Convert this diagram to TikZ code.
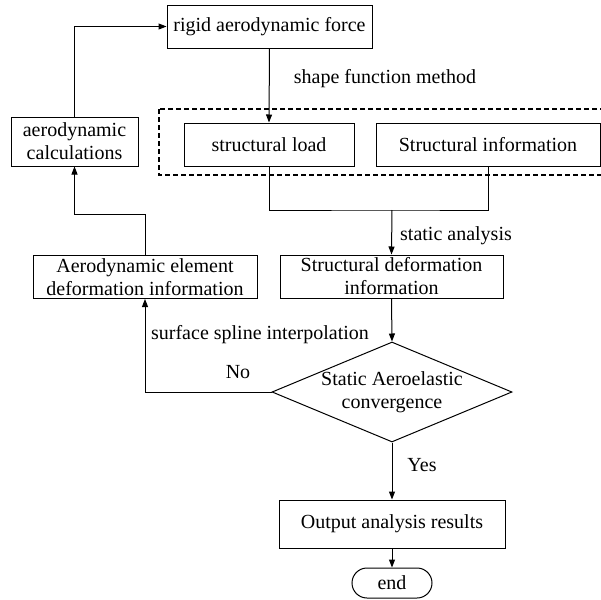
\documentclass[tikz,border=0pt]{standalone}
\usepackage{fontspec}
\setmainfont{Liberation Serif}
\usetikzlibrary{arrows.meta,positioning,shapes.geometric}

\begin{document}
\begin{tikzpicture}[
  x=0.5pt, y=-0.5pt,
  font=\fontsize{10}{11.5}\selectfont,
  box/.style={draw, line width=0.5pt, align=center, inner sep=0pt, minimum height=21.5pt},
  decision/.style={draw, line width=0.5pt, diamond, aspect=2.4, align=center, inner xsep=-6pt, inner ysep=0pt, minimum width=120pt, minimum height=50pt},
  terminal/.style={draw, line width=0.5pt, rounded corners=7.5pt, align=center, inner sep=0pt, minimum width=40pt, minimum height=15pt},
  group/.style={draw, line width=0.9pt, dash pattern=on 2.5pt off 1.5pt},
  arr/.style={-{Triangle[length=4pt,width=3pt]}, line width=0.5pt},
  line/.style={line width=0.5pt}
]
\useasboundingbox (0,0) rectangle (601,600);

% boxes
\node[box, minimum width=102.5pt] (rigid) at (269.5,26.5) {rigid aerodynamic force};
\node[box, minimum width=63.5pt, minimum height=24.5pt] (aerocalc) at (74.5,141.5) {aerodynamic\\calculations};
\draw[group] (159,109) rectangle (620,175);
\node[box, minimum width=85pt] (load) at (269,144.5) {structural load};
\node[box, minimum width=112pt] (info) at (488,144.5) {Structural information};
\node[box, minimum width=111.5pt] (sdef) at (391.5,276.5) {Structural deformation\\information};
\node[box, minimum width=112pt] (aeroel) at (145,277) {Aerodynamic element\\deformation information};
\node[decision] (conv) at (392,392) {Static Aeroelastic\\convergence};
\node[box, minimum width=113pt, minimum height=24pt] (output) at (392,524) {Output analysis results};
\node[terminal] (end) at (392,583) {end};

\coordinate (join) at (392,210);
\coordinate (turn) at (145,214);

% labels
\node (lshape) at (385,79) {shape function method};
\node (lstatic) at (456,236) {static analysis};
\node (lspline) at (260,335) {surface spline interpolation};
\node (lno) at (238,372) {No};
\node (lyes) at (422,465) {Yes};

% connectors
\draw[arr] (rigid.south) -- (load.north);
\draw[line] (load.south) |- (join) -| (info.south);
\draw[arr] (join) -- (sdef.north);
\draw[arr] (sdef.south) -- (conv.north);
\draw[arr] (conv.west) -| (aeroel.south);
\draw[arr] (aeroel.north) -- (turn) -| (aerocalc.south);
\draw[arr] (aerocalc.north) |- (rigid.west);
\draw[arr] (conv.south) -- (output.north);
\draw[arr] (output.south) -- (end.north);
\end{tikzpicture}
\end{document}
